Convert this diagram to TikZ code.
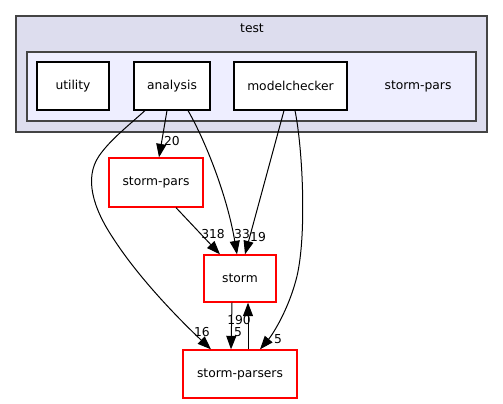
\documentclass[tikz,border=0pt]{standalone}
\usepackage{fontspec}
\setmainfont{DejaVu Sans}
\usetikzlibrary{arrows.meta,calc}
\definecolor{clouter}{HTML}{DDDDEE}
\definecolor{clinner}{HTML}{EEEEFF}
\definecolor{clborder}{HTML}{444444}
\definecolor{nodered}{HTML}{FF0000}
\begin{document}
\begin{tikzpicture}[x=1pt,y=-1pt,
  every node/.style={font=\fontsize{12.3}{14}\selectfont, inner sep=0pt},
  cluster/.style={draw=clborder, line width=1.2pt},
  dirbox/.style={draw=black, fill=white, line width=1.1pt, minimum height=48pt},
  extbox/.style={draw=nodered, fill=white, line width=1.3pt, minimum height=48pt},
  edge/.style={draw=black, line width=1pt, -{Triangle[length=13.5pt,width=10pt]}},
  elabel/.style={font=\fontsize{12.3}{14}\selectfont}]
\useasboundingbox (0,0) rectangle (503,404);
% clusters
\path[cluster, fill=clouter] (16,16) rectangle (487,132);
\node (testlbl) at (252,28) {test};
\path[cluster, fill=clinner] (27,52) rectangle (476,121);
\node (sparslbl) at (418,86) {storm-pars};
% inner nodes
\node[dirbox, minimum width=72pt] (utility) at (73,86) {utility};
\node[dirbox, minimum width=76pt] (analysis) at (172,86) {analysis};
\node[dirbox, minimum width=113pt] (modelchecker) at (290.5,86) {modelchecker};
% outer nodes
\node[extbox, minimum width=94pt, minimum height=49pt] (stormpars) at (156,182.5) {storm-pars};
\node[extbox, minimum width=72pt, minimum height=47pt] (storm) at (240,278.5) {storm};
\node[extbox, minimum width=114pt] (parsers) at (240,374) {storm-parsers};
% edges
\draw[edge] ($(analysis.south)+(-5,0)$) -- ($(stormpars.north)+(3,0)$);
\node[elabel] (l20) at (172,141) {20};
\draw[edge] ($(analysis.south)+(16,0)$) .. controls (205,140) and (227,195) .. ($(storm.north)+(-3,0)$);
\node[elabel] (l33) at (242,234) {33};
\draw[edge] ($(analysis.south)+(-27,0)$) .. controls (128,126) and (110,140) .. (99,156)
  .. controls (84,178) and (93,208) .. (113,238)
  .. controls (140,280) and (182,322) .. ($(parsers.north)+(-29,0)$);
\node[elabel] (l16) at (202,332) {16};
\draw[edge] ($(modelchecker.south)+(-6.5,0)$) -- ($(storm.north)+(5,0)$);
\node[elabel] (l19) at (258,237) {19};
\draw[edge] ($(modelchecker.south)+(4.5,0)$) .. controls (303,150) and (307,240) .. (296,280)
  .. controls (288,310) and (273,334) .. ($(parsers.north)+(20,0)$);
\node[elabel] (l5a) at (278,339) {5};
\draw[edge] ($(stormpars.south)+(20,0)$) -- ($(storm.north)+(-20,0)$);
\node[elabel] (l318) at (213,234) {318};
\draw[edge] ($(storm.south)+(-8,0)$) -- ($(parsers.north)+(-9,0)$);
\node[elabel] (l5b) at (238,332.5) {5};
\draw[edge] ($(parsers.north)+(8,0)$) -- ($(storm.south)+(8,0)$);
\node[elabel] (l190) at (239,320) {190};
\end{tikzpicture}
\end{document}
